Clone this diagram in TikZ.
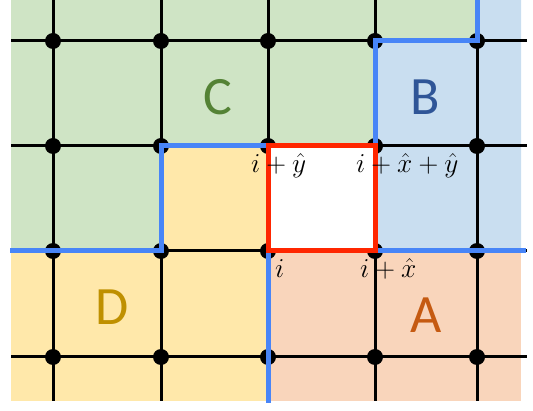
\documentclass[tikz,border=0pt]{standalone}
\usepackage{fontspec}
\usepackage{graphicx}
\newfontfamily\letterfont{Carlito}
\definecolor{fgreen}{RGB}{207,228,197}
\definecolor{fblue}{RGB}{201,222,240}
\definecolor{fyellow}{RGB}{255,232,170}
\definecolor{forange}{RGB}{249,213,187}
\definecolor{lgreen}{RGB}{84,130,53}
\definecolor{lblue}{RGB}{47,85,151}
\definecolor{lyellow}{RGB}{191,144,0}
\definecolor{lorange}{RGB}{197,90,17}
\definecolor{bline}{RGB}{72,133,247}
\definecolor{rline}{RGB}{255,38,0}
\newcommand{\sitelab}[1]{\scalebox{1.1}{$#1$}}
\tikzset{
  gridline/.style={black, line width=3pt},
  dot/.style={circle, fill=black, inner sep=0pt, minimum size=16pt},
  boundary/.style={bline, line width=5pt},
  plaq/.style={rline, line width=5pt},
  region/.style={font=\letterfont\fontsize{54}{54}\selectfont, inner sep=0pt},
  site/.style={font=\fontsize{24.88}{25}\selectfont, inner sep=0pt, anchor=base west},
}
\begin{document}
\begin{tikzpicture}[x=1pt,y=-1pt]
\useasboundingbox (0,0) rectangle (533,411);
% region fills
\fill[fgreen] (11,0) -- (476,0) -- (476,41) -- (375,41) -- (375,146) -- (161,146) -- (161,251) -- (11,251) -- cycle;
\fill[fblue] (476,0) -- (521,0) -- (521,251) -- (375,251) -- (375,41) -- (476,41) -- cycle;
\fill[fyellow] (11,251) -- (161,251) -- (161,146) -- (268,146) -- (268,401) -- (11,401) -- cycle;
\fill[forange] (268,251) -- (521,251) -- (521,401) -- (268,401) -- cycle;
% grid coordinates
\foreach \x [count=\i] in {53,161,268,375,477} {
  \coordinate (t\i) at (\x,0);
  \coordinate (b\i) at (\x,401);
  \foreach \y [count=\j] in {41,146,251,357} {
    \coordinate (p\i\j) at (\x,\y);
  }
}
\foreach \y [count=\j] in {41,146,251,357} {
  \coordinate (l\j) at (11,\y);
  \coordinate (r\j) at (527,\y);
}
% grid lines
\foreach \i in {1,...,5} { \draw[gridline] (t\i) -- (b\i); }
\foreach \j in {1,...,4} { \draw[gridline] (l\j) -- (r\j); }
% dots
\foreach \i in {1,...,5} {
  \foreach \j in {1,...,4} { \node[dot] (d\i\j) at (p\i\j) {}; }
}
% boundaries
\coordinate (bl) at (10,251);
\coordinate (br) at (526,251);
\coordinate (bb) at (268,403);
\coordinate (bt) at (477,0);
\draw[boundary] (bl) -- (p23) -- (p22) -- (p32);
\draw[boundary] (p42) -- (p41) -- (p51) -- (bt);
\draw[boundary] (p43) -- (br);
\draw[boundary] (p33) -- (bb);
% plaquette
\fill[white] (p32) rectangle (p43);
\draw[plaq] (p32) rectangle (p43);
% region letters
\node[region, text=lgreen] (C) at (218,97) {C};
\node[region, text=lblue] (B) at (425,97) {B};
\node[region, text=lyellow] (D) at (112,307) {D};
\node[region, text=lorange] (A) at (426,315) {A};
% site labels
\node[site] (iy) at (251,173) {\sitelab{i+\hat{y}}};
\node[site] (ixy) at (356,173) {\sitelab{i+\hat{x}+\hat{y}}};
\node[site] (i) at (275,278) {\sitelab{i}};
\node[site] (ix) at (360,278) {\sitelab{i+\hat{x}}};
\end{tikzpicture}
\end{document}
